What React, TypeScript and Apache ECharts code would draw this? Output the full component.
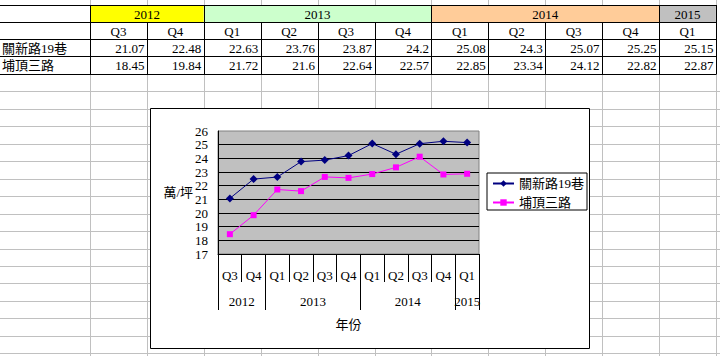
import { useEffect, useRef } from 'react';
import * as echarts from 'echarts';

// ---- data ----
const quarterLabels = ['Q3', 'Q4', 'Q1', 'Q2', 'Q3', 'Q4', 'Q1', 'Q2', 'Q3', 'Q4', 'Q1'];
const periodYears = ['2012', '2012', '2013', '2013', '2013', '2013', '2014', '2014', '2014', '2014', '2015'];
const seriesNames = ['關新路19巷', '埔頂三路'];
const guanxinValues = [21.07, 22.48, 22.63, 23.76, 23.87, 24.2, 25.08, 24.3, 25.07, 25.25, 25.15];
const pudingValues = [18.45, 19.84, 21.72, 21.6, 22.64, 22.57, 22.85, 23.34, 24.12, 22.82, 22.87];
const yMin = 17;
const yMax = 26;
const yStep = 1;
const yAxisTitle = '萬/坪';
const xAxisTitle = '年份';

const FONT = '"Liberation Serif", "Noto Sans CJK TC", serif';
const yearFill: Record<string, string> = {
  '2012': '#ffff00',
  '2013': '#ccffcc',
  '2014': '#ffcc99',
  '2015': '#c0c0c0',
};

type Group = { year: string; start: number; end: number };
function yearGroups(): Group[] {
  const groups: Group[] = [];
  periodYears.forEach((y, i) => {
    const last = groups[groups.length - 1];
    if (last && last.year === y) last.end = i + 1;
    else groups.push({ year: y, start: i, end: i + 1 });
  });
  return groups;
}

function buildSheet(groups: Group[]) {
  const COL0 = 90;
  const COLW = 56.9;
  const colX = (i: number) => COL0 + COLW * i;
  const px = (v: number) => Math.round(v) + 0.5;
  const tableRowY = [5, 22, 39, 56, 74];
  const GRID = '#c0c0c0';
  const els: any[] = [];
  const line = (x1: number, y1: number, x2: number, y2: number, stroke: string, z: number) => ({
    type: 'line', z, silent: true,
    shape: { x1, y1, x2, y2 },
    style: { stroke, lineWidth: 1 },
  });
  const text = (t: string, x: number, y: number, align: string) => ({
    type: 'text', z: -20, silent: true, x, y,
    style: {
      text: t, font: `13px ${FONT}`, fill: '#000',
      align, verticalAlign: 'middle', textAlign: align, textVerticalAlign: 'middle',
    },
  });
  const nCols = periodYears.length;
  // grey sheet gridlines
  for (let i = 0; i <= nCols; i++) els.push(line(px(colX(i)), 0, px(colX(i)), 356, GRID, -30));
  for (let k = 1; k <= 16; k++) {
    const y = px(74 + 17.45 * k);
    els.push(line(0, y, 720, y, GRID, -30));
  }
  // header fills
  groups.forEach((g) => {
    els.push({
      type: 'rect', z: -25, silent: true,
      shape: { x: colX(g.start), y: 5, width: colX(g.end) - colX(g.start), height: 17 },
      style: { fill: yearFill[g.year] || '#fff' },
    });
  });
  // white fill for the table body
  els.push({
    type: 'rect', z: -26, silent: true,
    shape: { x: 0, y: 22, width: colX(nCols), height: 52 },
    style: { fill: '#fff' },
  });
  // black borders
  tableRowY.forEach((y) => els.push(line(0, px(y), px(colX(nCols)), px(y), '#000', -15)));
  const b1 = [0, ...groups.map((g) => g.end)];
  b1.forEach((b) => els.push(line(px(colX(b)), 5, px(colX(b)), 22, '#000', -15)));
  for (let i = 0; i <= nCols; i++) els.push(line(px(colX(i)), 22, px(colX(i)), 74, '#000', -15));
  // texts
  groups.forEach((g) => els.push(text(g.year, (colX(g.start) + colX(g.end)) / 2, 14, 'center')));
  quarterLabels.forEach((q, i) => els.push(text(q, (colX(i) + colX(i + 1)) / 2, 31, 'center')));
  els.push(text(seriesNames[0], 2, 48, 'left'));
  els.push(text(seriesNames[1], 2, 65.5, 'left'));
  guanxinValues.forEach((v, i) => els.push(text(String(v), colX(i + 1) - 2.5, 48, 'right')));
  pudingValues.forEach((v, i) => els.push(text(String(v), colX(i + 1) - 2.5, 65.5, 'right')));
  // chart frame
  els.push({
    type: 'rect', z: -10, silent: true,
    shape: { x: 150.5, y: 108.5, width: 439, height: 240 },
    style: { fill: '#fff', stroke: '#000', lineWidth: 1 },
  });
  return els;
}

export default function App() {
  const ref = useRef<HTMLDivElement>(null);
  useEffect(() => {
    if (!ref.current) return;
    const chart = echarts.init(ref.current, null, { renderer: 'svg' });
    const groups = yearGroups();
    const yearBoundaries = [0, ...groups.map((g) => g.end)];
    const yearCenters = groups.map((g) => (g.start + g.end) / 2);
    const txt = { color: '#000', fontFamily: FONT, fontSize: 13 };
    const option: any = {
      animation: false,
      backgroundColor: '#fff',
      graphic: { elements: buildSheet(groups) },
      grid: {
        left: 218, top: 131, width: 261, height: 123,
        show: true, backgroundColor: '#c0c0c0', borderColor: '#808080', borderWidth: 1,
        containLabel: false, outerBoundsMode: 'none',
      },
      legend: {
        orient: 'vertical', left: 487, top: 173,
        itemWidth: 21, itemHeight: 8, itemGap: 6,
        padding: [4, 3, 1, 5],
        borderColor: '#000', borderWidth: 1, backgroundColor: '#fff', borderRadius: 0,
        textStyle: { ...txt },
        data: seriesNames,
      },
      xAxis: [
        {
          type: 'category', data: quarterLabels, gridIndex: 0, position: 'bottom', boundaryGap: true,
          axisLine: { show: true, onZero: false, lineStyle: { color: '#000', width: 1 } },
          axisTick: { show: true, interval: 0, length: 28, lineStyle: { color: '#000', width: 1 } },
          axisLabel: { interval: 0, margin: 15, ...txt },
          splitLine: { show: false },
          name: xAxisTitle, nameLocation: 'middle', nameGap: 64, nameMoveOverlap: false,
          nameTextStyle: { ...txt },
        },
        {
          type: 'value', gridIndex: 0, position: 'bottom', offset: 28, min: 0, max: periodYears.length,
          axisLine: { show: false },
          axisTick: { show: true, length: 28, customValues: yearBoundaries, lineStyle: { color: '#000', width: 1 } },
          axisLabel: {
            customValues: yearCenters, margin: 13, ...txt,
            formatter: (v: number) => {
              const g = groups.find((gg) => Math.abs((gg.start + gg.end) / 2 - v) < 1e-6);
              return g ? g.year : '';
            },
          },
          splitLine: { show: false },
        },
      ],
      yAxis: {
        type: 'value', min: yMin, max: yMax, interval: yStep,
        axisLine: { show: true, lineStyle: { color: '#000', width: 1 } },
        axisTick: { show: false },
        axisLabel: { margin: 10, ...txt },
        splitLine: { show: true, showMinLine: false, showMaxLine: false, lineStyle: { color: '#000', width: 1 } },
        name: yAxisTitle, nameLocation: 'middle', nameRotate: 0, nameGap: 25, nameMoveOverlap: false,
        nameTextStyle: { ...txt },
      },
      series: [
        {
          type: 'line', name: seriesNames[0], data: guanxinValues, xAxisIndex: 0, yAxisIndex: 0,
          symbol: 'diamond', symbolSize: 8, color: '#000080',
          lineStyle: { color: '#000080', width: 1 }, itemStyle: { color: '#000080' },
        },
        {
          type: 'line', name: seriesNames[1], data: pudingValues, xAxisIndex: 0, yAxisIndex: 0,
          symbol: 'rect', symbolSize: 6, color: '#ff00ff',
          lineStyle: { color: '#ff00ff', width: 1 }, itemStyle: { color: '#ff00ff' },
        },
      ],
    };
    chart.setOption(option);
    return () => chart.dispose();
  }, []);
  return <div ref={ref} style={{ position: 'fixed', left: 0, top: 0, width: 720, height: 356 }} />;
}
